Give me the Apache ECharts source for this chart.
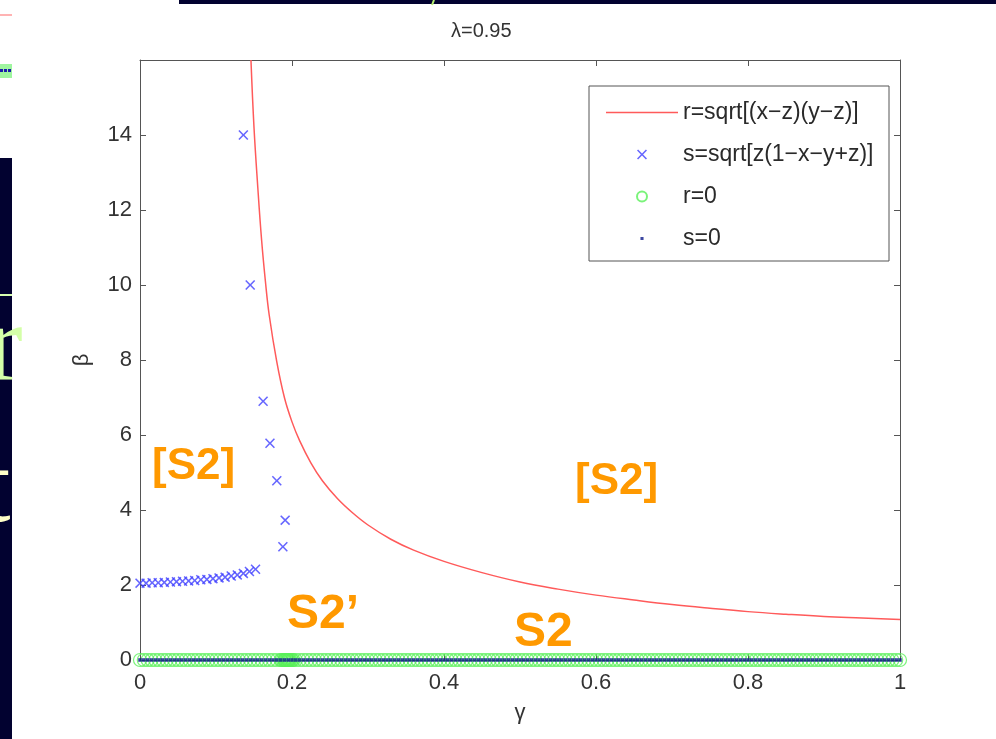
<!DOCTYPE html>
<html>
<head>
<meta charset="utf-8">
<script src="https://cdn.jsdelivr.net/npm/echarts@6/dist/echarts.min.js"></script>
<style>
  html, body { margin: 0; padding: 0; background: #fff; }
  #main { width: 996px; height: 739px; }
</style>
</head>
<body>
<div id="main"></div>
<script>
// gamma grid used by the r=0 / s=0 markers
var gammaGrid = [
  0, 0.005, 0.01, 0.015, 0.02, 0.025, 0.03, 0.035, 0.04, 0.045,
  0.05, 0.055, 0.06, 0.065, 0.07, 0.075, 0.08, 0.085, 0.09, 0.095,
  0.1, 0.105, 0.11, 0.115, 0.12, 0.125, 0.13, 0.135, 0.14, 0.145,
  0.15, 0.155, 0.16, 0.165, 0.17, 0.175, 0.18, 0.185, 0.19, 0.195,
  0.2, 0.205, 0.21, 0.215, 0.22, 0.225, 0.23, 0.235, 0.24, 0.245,
  0.25, 0.255, 0.26, 0.265, 0.27, 0.275, 0.28, 0.285, 0.29, 0.295,
  0.3, 0.305, 0.31, 0.315, 0.32, 0.325, 0.33, 0.335, 0.34, 0.345,
  0.35, 0.355, 0.36, 0.365, 0.37, 0.375, 0.38, 0.385, 0.39, 0.395,
  0.4, 0.405, 0.41, 0.415, 0.42, 0.425, 0.43, 0.435, 0.44, 0.445,
  0.45, 0.455, 0.46, 0.465, 0.47, 0.475, 0.48, 0.485, 0.49, 0.495,
  0.5, 0.505, 0.51, 0.515, 0.52, 0.525, 0.53, 0.535, 0.54, 0.545,
  0.55, 0.555, 0.56, 0.565, 0.57, 0.575, 0.58, 0.585, 0.59, 0.595,
  0.6, 0.605, 0.61, 0.615, 0.62, 0.625, 0.63, 0.635, 0.64, 0.645,
  0.65, 0.655, 0.66, 0.665, 0.67, 0.675, 0.68, 0.685, 0.69, 0.695,
  0.7, 0.705, 0.71, 0.715, 0.72, 0.725, 0.73, 0.735, 0.74, 0.745,
  0.75, 0.755, 0.76, 0.765, 0.77, 0.775, 0.78, 0.785, 0.79, 0.795,
  0.8, 0.805, 0.81, 0.815, 0.82, 0.825, 0.83, 0.835, 0.84, 0.845,
  0.85, 0.855, 0.86, 0.865, 0.87, 0.875, 0.88, 0.885, 0.89, 0.895,
  0.9, 0.905, 0.91, 0.915, 0.92, 0.925, 0.93, 0.935, 0.94, 0.945,
  0.95, 0.955, 0.96, 0.965, 0.97, 0.975, 0.98, 0.985, 0.99, 0.995,
  1
];
// denser r=0 points around gamma ~ 0.19 (S2')
var rZeroExtra = [0.186, 0.188, 0.19, 0.191, 0.192, 0.193, 0.194, 0.195, 0.196, 0.197, 0.198, 0.2, 0.202];

// r = sqrt[(x-z)(y-z)] curve
var curveGamma = [0.146, 0.150, 0.155, 0.160, 0.165, 0.170, 0.180, 0.190, 0.200, 0.210, 0.225, 0.240, 0.260, 0.280, 0.300, 0.330, 0.360, 0.400, 0.450, 0.500, 0.550, 0.600, 0.650, 0.700, 0.750, 0.800, 0.850, 0.900, 0.950, 1.0];
var curveBeta  = [16.0, 14.2, 12.6, 11.2, 10.1, 9.2, 7.95, 7.0, 6.35, 5.85, 5.25, 4.78, 4.3, 3.92, 3.6, 3.22, 2.93, 2.63, 2.33, 2.08, 1.89, 1.73, 1.6, 1.48, 1.38, 1.29, 1.22, 1.16, 1.12, 1.08];

// s = sqrt[z(1-x-y+z)] markers
var sLowGamma = [0, 0.008, 0.016, 0.024, 0.032, 0.040, 0.048, 0.056, 0.064, 0.072, 0.080, 0.088, 0.096, 0.104, 0.112, 0.120, 0.128, 0.136, 0.144, 0.152];
var sLowBeta  = [2.05, 2.05, 2.06, 2.06, 2.07, 2.08, 2.09, 2.10, 2.11, 2.12, 2.14, 2.15, 2.17, 2.19, 2.21, 2.24, 2.27, 2.31, 2.36, 2.42];
var sHighGamma = [0.136, 0.145, 0.162, 0.171, 0.180, 0.191, 0.188];
var sHighBeta  = [14.0, 10.0, 6.9, 5.78, 4.78, 3.73, 3.02];

var legendNames = ['r=sqrt[(x\u2212z)(y\u2212z)]', 's=sqrt[z(1\u2212x\u2212y+z)]', 'r=0', 's=0'];
var regionLabels = ['[S2]', '[S2]', 'S2\u2019', 'S2'];

var xPath = 'path://M0,1.1L1.1,0L5,3.9L8.9,0L10,1.1L6.1,5L10,8.9L8.9,10L5,6.1L1.1,10L0,8.9L3.9,5Z';
var dotPath = 'path://M0,0H0.05V0.05H0Z M3.8,3.8H7.2V7.2H3.8Z M10.95,10.95H11V11H10.95Z';
var font = 'Liberation Sans';

function pairs(xs, ys) {
  var out = [];
  for (var i = 0; i < xs.length; i++) out.push([xs[i], ys[i]]);
  return out;
}

var curveData = pairs(curveGamma, curveBeta);
var sData = pairs(sLowGamma, sLowBeta).concat(pairs(sHighGamma, sHighBeta));
var rZeroData = gammaGrid.concat(rZeroExtra).map(function (g) { return [g, 0]; });
var sZeroData = gammaGrid.map(function (g) { return [g, 0]; });

var myChart = echarts.init(document.getElementById('main'));

var axisLineStyle = { color: '#555', width: 1 };
var tickLabel = { fontSize: 22, color: '#333', fontFamily: font };

function orange(text, x, y, size) {
  return {
    type: 'text', x: x, y: y, z: 20,
    style: { text: text, fontSize: size, fontWeight: 'bold', fontFamily: font, fill: '#ff9900', verticalAlign: 'middle' }
  };
}

myChart.setOption({
  backgroundColor: '#fff',
  animation: false,
  title: {
    text: '\u03bb=0.95',
    left: 446,
    top: 16,
    textStyle: { fontSize: 20, fontWeight: 'normal', color: '#333', fontFamily: font }
  },
  grid: {
    left: 140,
    right: 96,
    top: 60,
    bottom: 79,
    containLabel: false,
    outerBoundsMode: 'none'
  },
  legend: {
    data: [
      { name: legendNames[0], icon: 'path://M0,0H70V1.6H0Z' },
      { name: legendNames[1], icon: xPath },
      { name: legendNames[2], icon: 'circle' },
      { name: legendNames[3], icon: dotPath }
    ],
    orient: 'vertical',
    left: 606,
    top: 101,
    padding: 0,
    itemWidth: 72,
    itemHeight: 10,
    itemGap: 19,
    z: 10,
    textStyle: { fontSize: 23, color: '#2a2a2a', fontFamily: font }
  },
  xAxis: [{
    type: 'value',
    min: 0,
    max: 1,
    interval: 0.2,
    position: 'bottom',
    name: '\u03b3',
    nameLocation: 'middle',
    nameGap: 42,
    nameTextStyle: { fontSize: 22, color: '#333', fontFamily: font },
    axisLine: { show: true, onZero: false, lineStyle: axisLineStyle },
    axisTick: { show: true, inside: true, length: 6, lineStyle: axisLineStyle },
    axisLabel: Object.assign({ margin: 12 }, tickLabel),
    splitLine: { show: false }
  }, {
    type: 'value',
    min: 0,
    max: 1,
    interval: 0.2,
    position: 'top',
    axisLine: { show: true, onZero: false, lineStyle: axisLineStyle },
    axisTick: { show: true, inside: true, length: 6, lineStyle: axisLineStyle },
    axisLabel: { show: false },
    splitLine: { show: false }
  }],
  yAxis: [{
    type: 'value',
    min: 0,
    max: 16,
    interval: 2,
    position: 'left',
    name: '\u03b2',
    nameLocation: 'middle',
    nameGap: 47,
    nameRotate: 90,
    nameTextStyle: { fontSize: 22, color: '#333', fontFamily: font },
    axisLine: { show: true, onZero: false, lineStyle: axisLineStyle },
    axisTick: { show: true, inside: true, length: 6, lineStyle: axisLineStyle },
    axisLabel: Object.assign({ margin: 8, showMaxLabel: false }, tickLabel),
    splitLine: { show: false }
  }, {
    type: 'value',
    min: 0,
    max: 16,
    interval: 2,
    position: 'right',
    axisLine: { show: true, onZero: false, lineStyle: axisLineStyle },
    axisTick: { show: true, inside: true, length: 6, lineStyle: axisLineStyle },
    axisLabel: { show: false },
    splitLine: { show: false }
  }],
  series: [{
    name: legendNames[0],
    type: 'line',
    data: curveData,
    showSymbol: false,
    smooth: 0.4,
    itemStyle: { color: '#ff5a5a' },
    lineStyle: { color: '#ff5a5a', width: 1.5 },
    z: 3
  }, {
    name: legendNames[1],
    type: 'scatter',
    data: sData,
    symbol: xPath,
    symbolSize: 10,
    itemStyle: { color: '#4040ff' },
    z: 4
  }, {
    name: legendNames[2],
    type: 'scatter',
    data: rZeroData,
    symbol: 'circle',
    symbolSize: 13,
    itemStyle: { color: 'rgba(0,0,0,0)', borderColor: '#5af05a', borderWidth: 1.2 },
    z: 2
  }, {
    name: legendNames[3],
    type: 'scatter',
    data: sZeroData,
    symbol: 'rect',
    symbolSize: 3.6,
    itemStyle: { color: '#0d1a8a' },
    z: 5
  }],
  graphic: [
    // legend box
    { type: 'rect', shape: { x: 589, y: 86, width: 300, height: 175 }, style: { fill: '#fff', stroke: '#555', lineWidth: 1 }, z: 5 },
    // orange region labels
    orange(regionLabels[0], 152, 467, 44),
    orange(regionLabels[1], 575, 482, 44),
    orange(regionLabels[2], 287, 615, 48),
    orange(regionLabels[3], 514, 633, 48),
    // slide fragments around the plot
    { type: 'rect', shape: { x: 179, y: 0, width: 817, height: 4 }, style: { fill: '#020230' }, z: 20 },
    { type: 'line', shape: { x1: 434, y1: 0, x2: 432, y2: 5 }, style: { stroke: '#b8f070', lineWidth: 2 }, z: 21 },
    { type: 'line', shape: { x1: 0, y1: 15, x2: 12, y2: 15 }, style: { stroke: '#ff9a9a', lineWidth: 1.5 }, z: 20 },
    { type: 'rect', shape: { x: 0, y: 64, width: 12, height: 14 }, style: { fill: '#9ff59f' }, z: 20 },
    { type: 'line', shape: { x1: 0, y1: 70.5, x2: 12, y2: 70.5 }, style: { stroke: '#1a1aaa', lineWidth: 3, lineDash: [3, 1] }, z: 21 },
    { type: 'rect', shape: { x: 0, y: 158, width: 12, height: 581 }, style: { fill: '#020230' }, z: 20 },
    { type: 'line', shape: { x1: 0, y1: 295, x2: 12, y2: 295 }, style: { stroke: '#d8ffb0', lineWidth: 2 }, z: 21 },
    { type: 'text', x: -14, y: 350, style: { text: 'r', fontSize: 110, fontFamily: 'Liberation Serif', fill: '#d4ffa8', verticalAlign: 'middle' }, z: 21 },
    { type: 'text', x: -20, y: 492, style: { text: 't', fontSize: 110, fontFamily: 'Liberation Serif', fill: '#ffffc8', verticalAlign: 'middle' }, z: 21 }
  ]
});
</script>
</body>
</html>
